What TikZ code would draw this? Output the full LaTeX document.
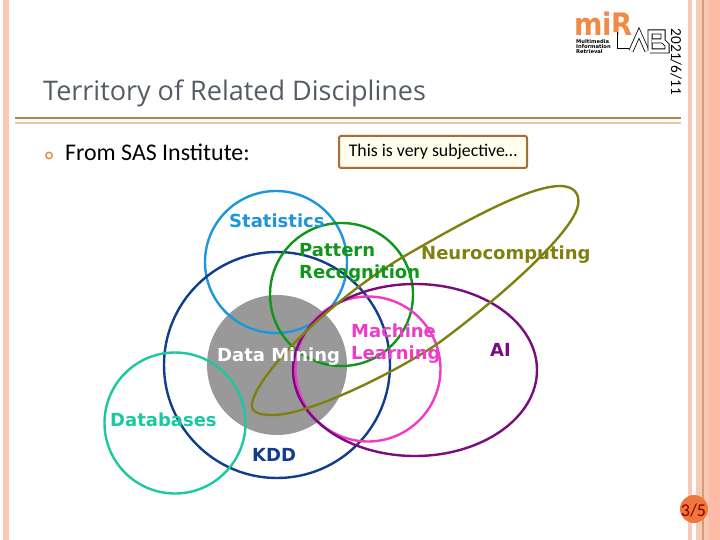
\documentclass[tikz,border=0pt]{standalone}
\usepackage{fontspec}
\setmainfont{Carlito}
\newfontfamily\titlefont{Open Sans}
\newfontfamily\labelfont{DejaVu Sans}
\definecolor{stripe}{HTML}{F9C9B6}
\definecolor{stripedeep}{HTML}{FDBBA8}
\definecolor{rulebrown}{HTML}{B5834F}
\definecolor{rulelight}{HTML}{E3C9A8}
\definecolor{boxbrown}{HTML}{A86B3A}
\definecolor{boxfill}{HTML}{FFFDEB}
\definecolor{mirorange}{HTML}{F08A45}
\definecolor{titlegray}{HTML}{555B66}
\definecolor{statblue}{HTML}{1E96DC}
\definecolor{patgreen}{HTML}{109618}
\definecolor{kddblue}{HTML}{123C8C}
\definecolor{dbteal}{HTML}{1CC8A0}
\definecolor{mlpink}{HTML}{EE3CC8}
\definecolor{aipurple}{HTML}{7A0C7C}
\definecolor{neuroolive}{HTML}{808010}
\tikzset{
  ring/.style={draw,line width=2.4pt,fill=none},
  lab/.style={font=\labelfont\bfseries\fontsize{18}{22}\selectfont,inner sep=0pt,align=left},
  band/.style={draw=none,fill=stripe},
  outline/.style={line width=.8pt,double=white,double distance=3.4pt,line join=miter}
}
\begin{document}
\begin{tikzpicture}[x=1pt,y=-1pt]
\useasboundingbox (0,0) rectangle (720,540);
% margins
\fill[band] (3,0) rectangle (9,540);
\fill[band] (688,0) rectangle (692,540);
\fill[band] (696,0) rectangle (720,540);
\fill[rulebrown!60!stripe] (702,0) rectangle (704,540);
\fill[stripedeep] (709,0) rectangle (720,540);
% title
\node[anchor=west,inner sep=0pt,text=titlegray,font=\titlefont\fontsize{27}{30}\selectfont] (title) at (43,93) {Territory of Related Disciplines};
\fill[rulebrown] (15,117) rectangle (681,119);
\fill[rulelight] (15,122) rectangle (681,124);
\node[rotate=-90,inner sep=0pt,font=\fontsize{15.3}{17}\selectfont] (date) at (676,62) {2021/6/11};
% logo
\node[anchor=base west,xscale=.88,inner sep=0pt,text depth=0pt,text=mirorange,font=\labelfont\bfseries\fontsize{31}{31}\selectfont] (mir) at (574,36) {miR};
\node[anchor=west,inner sep=0pt,font=\labelfont\bfseries\fontsize{5.2}{5}\selectfont,align=left] (mirtext) at (576,46.5) {Multimedia\\Information\\Retrieval};
\draw[outline] (615,32) -- (615,51) -- (629,51);
\draw[outline] (631,51) -- (639,33) -- (647,51);
\draw[outline] (650,51) -- (650,32) -- (663,32) -- (663,41) -- (652,41) (663,41) -- (667,45) -- (667,51) -- (650,51);
% bullet
\draw[draw=mirorange,line width=1.5pt,fill=white] (49,155.5) circle (3.2);
\node[anchor=west,inner sep=0pt,font=\fontsize{23.9}{26}\selectfont] (from) at (65,152.5) {From SAS Institute:};
\node[draw=boxbrown,line width=2pt,fill=boxfill,rounded corners=2pt,minimum width=188pt,minimum height=32pt,inner sep=0pt,font=\fontsize{17.8}{20}\selectfont] (note) at (433,152) {\raisebox{-1.5pt}{This is very subjective…}};
% disks
\fill[black!40] (277,365) circle (70);
\draw[ring,statblue] (276,262) circle (71);
\draw[ring,kddblue] (277,365) circle (113);
\draw[ring,dbteal] (175,423) circle (70.5);
\draw[ring,patgreen] (341.5,294.5) circle (71.5);
\draw[ring,mlpink] (368,369) circle (72.5);
\draw[ring,aipurple] (415,370) ellipse (122 and 86);
\draw[ring,neuroolive] (252,404) .. controls (256,375) and (330,300) .. (403,257)
  .. controls (470,218) and (530,186) .. (560,186)
  .. controls (575,186) and (580,195) .. (578,205)
  .. controls (574,230) and (510,290) .. (440,342)
  .. controls (400,370) and (310,415) .. (273,415)
  .. controls (258,415) and (251,412) .. cycle;
% labels
\node[lab,anchor=west,text=statblue] (statistics) at (229,221) {Statistics};
\node[lab,anchor=west,text=patgreen] (pattern) at (299,262.5) {Pattern\\Recognition};
\node[lab,anchor=west,text=neuroolive] (neuro) at (421,255) {Neurocomputing};
\node[lab,anchor=west,text=white] (dm) at (217,357) {Data Mining};
\node[lab,anchor=west,text=mlpink] (ml) at (351,344) {Machine\\Learning};
\node[lab,anchor=west,text=aipurple] (ai) at (490,350) {AI};
\node[lab,anchor=west,text=dbteal] (db) at (110,420) {Databases};
\node[lab,anchor=west,text=kddblue] (kdd) at (252,455) {KDD};
% page number
\fill[mirorange!85!red] (694,509) circle (14);
\node[inner sep=0pt,text=red!50!black,font=\fontsize{18}{20}\selectfont] (page) at (693.5,511) {3/5};
\end{tikzpicture}
\end{document}
